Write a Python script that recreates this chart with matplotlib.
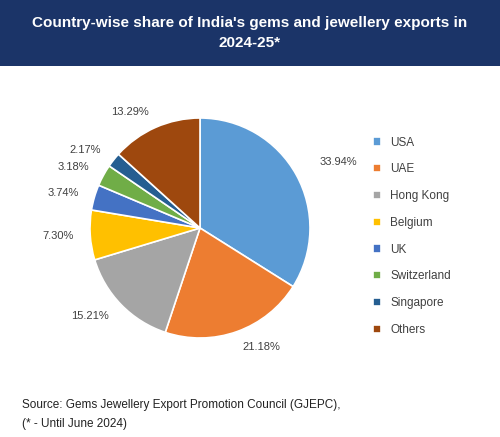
import matplotlib.pyplot as plt
from matplotlib.patches import Rectangle

countries = ["USA", "UAE", "Hong Kong", "Belgium", "UK", "Switzerland", "Singapore", "Others"]
shares = [33.94, 21.18, 15.21, 7.30, 3.74, 3.18, 2.17, 13.29]
colors = ["#5B9BD5", "#ED7D31", "#A5A5A5", "#FFC000", "#4472C4", "#70AD47", "#255E91", "#9E480E"]

W, H = 500, 437
fig = plt.figure(figsize=(W / 100, H / 100), dpi=100)

# header band
fig.patches.append(Rectangle((0, 1 - 66 / H), 1, 66 / H, transform=fig.transFigure,
                             facecolor="#1B3468", edgecolor="none", zorder=0))
fig.text(0.5, 1 - 33 / H, "Country-wise share of India's gems and jewellery exports in\n2024-25*",
         ha="center", va="center", color="white", fontsize=11, fontweight="bold",
         family="Liberation Sans", linespacing=1.5)

# pie: center (200, 228), radius 110 px
r = 110
ax = fig.add_axes([(200 - r) / W, 1 - (228 + r) / H, 2 * r / W, 2 * r / H])
wedges, texts = ax.pie(shares, colors=colors, startangle=90, counterclock=False,
                       labels=[f"{v:.2f}%" for v in shares], labeldistance=1.15,
                       wedgeprops=dict(edgecolor="white", linewidth=1.2),
                       textprops=dict(fontsize=8, color="#404040", family="Liberation Sans"))
# nudge the USA label a little further out
x, y = texts[0].get_position()
texts[0].set_position((x * 1.08, y * 1.08))
ax.set_aspect("equal")
ax.set_xlim(-1, 1)
ax.set_ylim(-1, 1)

fig.legend(wedges, countries, loc="upper left", bbox_to_anchor=(362 / W, 1 - 126 / H),
           frameon=False, labelspacing=1.25, handlelength=0.7, handleheight=0.7,
           handletextpad=0.8, prop=dict(family="Liberation Sans", size=8.5))
for t in fig.legends[0].get_texts():
    t.set_color("#404040")

fig.text(22 / W, 1 - 405 / H, "Source: Gems Jewellery Export Promotion Council (GJEPC),",
         fontsize=8.5, family="Liberation Sans", va="center", color="#222222")
fig.text(22 / W, 1 - 424 / H, "(* - Until June 2024)",
         fontsize=8.5, family="Liberation Sans", va="center", color="#222222")

fig.savefig("out.png", dpi=100)
